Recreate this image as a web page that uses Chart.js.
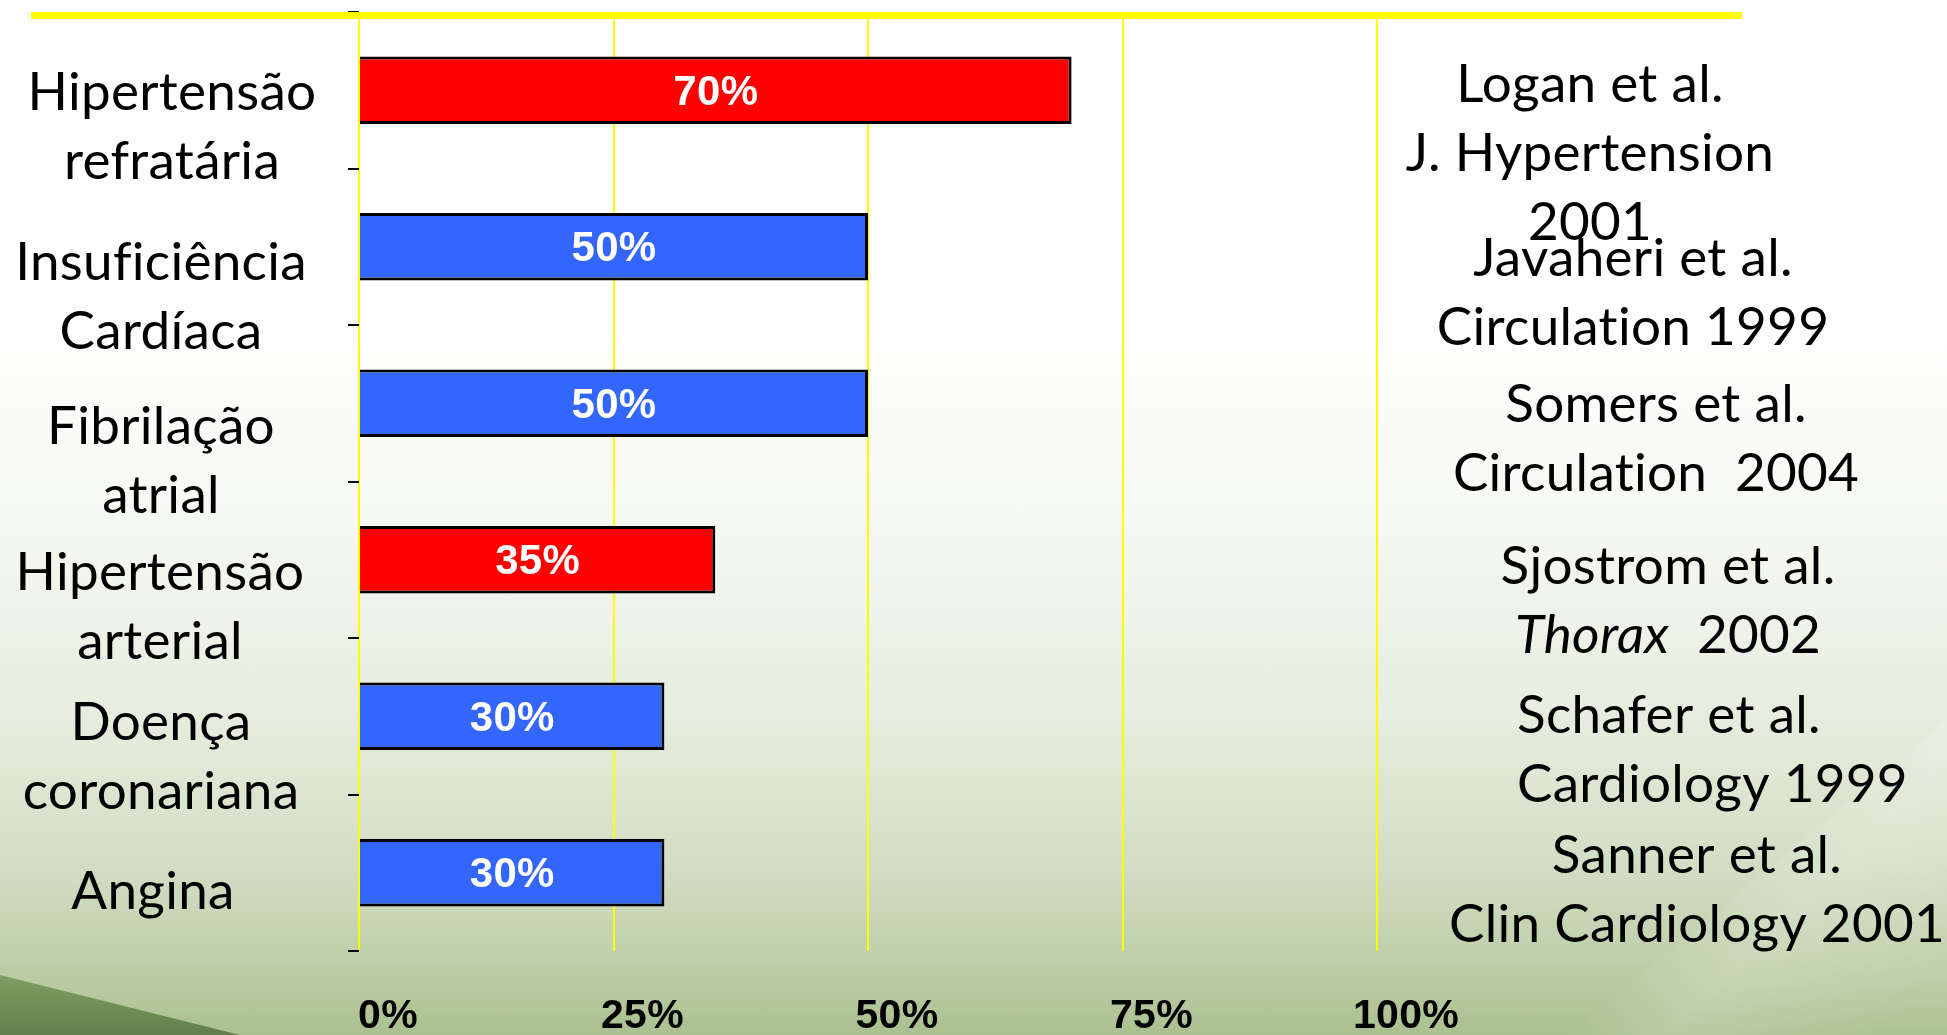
<!DOCTYPE html>
<html lang="pt">
<head>
<meta charset="utf-8">
<title>Prevalência</title>
<script src="https://cdn.jsdelivr.net/npm/chart.js@4.4.1/dist/chart.umd.min.js"></script>
<style>
    html, body {
        margin: 0;
        padding: 0;
        width: 1947px;
        height: 1035px;
        overflow: hidden;
    }
    #slide {
        position: relative;
        width: 1947px;
        height: 1035px;
        background: linear-gradient(to bottom,
            #ffffff 0%, #ffffff 30%, #f6f8f3 50%, #e6ecdd 70%,
            #d2ddc4 84%, #b9cba2 95%, #aac08f 100%);
        overflow: hidden;
    }
    /* green swooshes in the lower corners */
    .wedge {
        position: absolute;
        pointer-events: none;
    }
    #wedge-dark {
        left: 0; top: 975px; width: 300px; height: 60px;
        background: linear-gradient(to bottom, #7f9f62, #637e4b);
        clip-path: polygon(0 0, 80% 100%, 0 100%);
    }
    #wedge-light {
        left: 1560px; top: 720px; width: 387px; height: 315px;
        background: linear-gradient(135deg, rgba(255,255,255,0) 45%, rgba(255,255,255,0.18) 60%, rgba(255,255,255,0.05) 90%);
        clip-path: polygon(100% 0, 100% 100%, 2% 100%);
    }
    canvas {
        position: absolute;
        left: 0;
        top: 0;
    }
</style>
</head>
<body>
<div id="slide">
    <div class="wedge" id="wedge-dark"></div>
    <div class="wedge" id="wedge-light"></div>
    <canvas id="prevChart" width="1947" height="1035"></canvas>
</div>

<script>
// ===== DATA =====
const categories = [
    ['Hipertensão', 'refratária'],
    ['Insuficiência', 'Cardíaca'],
    ['Fibrilação', 'atrial'],
    ['Hipertensão', 'arterial'],
    ['Doença', 'coronariana'],
    ['Angina']
];
const prevalence = [70, 50, 50, 35, 30, 30];
const barColors = ['#ff0000', '#3366ff', '#3366ff', '#ff0000', '#3366ff', '#3366ff'];
const xTicks = [0, 25, 50, 75, 100];

// references, one block per category (runs marked italic where needed)
const citations = [
    [['Logan et al.'], ['J. Hypertension'], ['2001']],
    [['Javaheri et al.'], ['Circulation 1999']],
    [['Somers et al.'], ['Circulation  2004']],
    [['Sjostrom et al.'], [{ t: 'Thorax', italic: true }, '  2002']],
    [['Schafer et al.'], ['Cardiology 1999']],
    [['Sanner et al.'], ['Clin Cardiology 2001']]
];

// ===== LAYOUT =====
const TEXT_FONT = 'Lato, "Open Sans", sans-serif';
const TEXT_SIZE = 53;
const BOLD_FONT = '"Liberation Sans", Arial, sans-serif';
const LINE_GAP = 69;
// category text boxes: centre x, and shift of the block below the band centre
const categoryBoxes = [
    { x: 172, dy: 37 },
    { x: 161, dy: 51 },
    { x: 161, dy: 58 },
    { x: 160, dy: 48 },
    { x: 161, dy: 41 },
    { x: 153, dy: 19 }
];
// reference text boxes: x, first baseline, alignment
const citationBoxes = [
    { x: 1590, y: 102, align: 'center' },
    { x: 1633, y: 276, align: 'center' },
    { x: 1656, y: 422, align: 'center' },
    { x: 1668, y: 584, align: 'center' },
    { x: 1517, y: 733, align: 'left' },
    { x: 1697, y: 873, align: 'center' }
];

// ===== PLUGINS =====
// tiny letter spacing keeps Lato from joining "fi" / "ti"
const noLigatures = {
    id: 'noLigatures',
    beforeDraw(chart) {
        chart.ctx.letterSpacing = '0.3px';
    }
};

const topRule = {
    id: 'topRule',
    afterDraw(chart) {
        const ctx = chart.ctx;
        ctx.save();
        ctx.fillStyle = '#ffff00';
        ctx.fillRect(31, 12, 1711, 7);
        ctx.restore();
    }
};

const barValueLabels = {
    id: 'barValueLabels',
    afterDatasetsDraw(chart) {
        const ctx = chart.ctx;
        const meta = chart.getDatasetMeta(0);
        ctx.save();
        ctx.fillStyle = '#ffffff';
        ctx.font = 'bold 42px ' + BOLD_FONT;
        ctx.textAlign = 'center';
        ctx.textBaseline = 'middle';
        meta.data.forEach((bar, i) => {
            const cx = (bar.x + bar.base) / 2;
            ctx.fillText(prevalence[i] + '%', cx, bar.y + 3);
        });
        ctx.restore();
    }
};

// category names, placed on the y scale's bands
const categoryText = {
    id: 'categoryText',
    afterDraw(chart) {
        const ctx = chart.ctx;
        const yScale = chart.scales.y;
        ctx.save();
        ctx.fillStyle = '#000000';
        ctx.font = TEXT_SIZE + 'px ' + TEXT_FONT;
        ctx.textAlign = 'center';
        ctx.textBaseline = 'middle';
        categories.forEach((lines, i) => {
            const box = categoryBoxes[i];
            const mid = yScale.getPixelForValue(i) + box.dy;
            const top = mid - (lines.length - 1) * LINE_GAP / 2;
            lines.forEach((line, l) => {
                ctx.fillText(line, box.x, top + l * LINE_GAP);
            });
        });
        ctx.restore();
    }
};

function runFont(run) {
    return (run.italic ? 'italic ' : '') + TEXT_SIZE + 'px ' + TEXT_FONT;
}

const referenceText = {
    id: 'referenceText',
    afterDraw(chart) {
        const ctx = chart.ctx;
        ctx.save();
        ctx.fillStyle = '#000000';
        ctx.textBaseline = 'alphabetic';
        ctx.textAlign = 'left';
        citations.forEach((block, b) => {
            const box = citationBoxes[b];
            block.forEach((line, l) => {
                const runs = line.map(r => typeof r === 'string' ? { t: r } : r);
                let width = 0;
                runs.forEach(r => {
                    ctx.font = runFont(r);
                    r.w = ctx.measureText(r.t).width;
                    width += r.w;
                });
                let x = box.align === 'center' ? box.x - width / 2 : box.x;
                const y = box.y + l * LINE_GAP;
                runs.forEach(r => {
                    ctx.font = runFont(r);
                    ctx.fillText(r.t, x, y);
                    x += r.w;
                });
            });
        });
        ctx.restore();
    }
};

// ===== CHART =====
const ctx = document.getElementById('prevChart');
new Chart(ctx, {
    type: 'bar',
    data: {
        labels: categories,
        datasets: [{
            data: prevalence,
            backgroundColor: barColors,
            borderColor: '#000000',
            borderWidth: 3,
            barPercentage: 0.43,
            categoryPercentage: 1
        }]
    },
    options: {
        indexAxis: 'y',
        responsive: false,
        animation: false,
        layout: {
            padding: { top: 12, right: 570, left: 0, bottom: 0 }
        },
        plugins: {
            legend: { display: false },
            tooltip: { enabled: false }
        },
        scales: {
            x: {
                min: 0,
                max: 100,
                afterBuildTicks: (scale) => {
                    scale.ticks = xTicks.map(v => ({ value: v }));
                },
                afterFit: (scale) => {
                    scale.height = 84;
                    scale.paddingLeft = 0;
                    scale.paddingRight = 0;
                },
                ticks: {
                    callback: (v) => v + '%',
                    color: '#000000',
                    font: { family: BOLD_FONT, size: 41, weight: 'bold' },
                    labelOffset: 29,
                    padding: 41,
                    maxRotation: 0
                },
                grid: {
                    color: '#ffff00',
                    lineWidth: 2,
                    drawTicks: false
                },
                border: { display: false }
            },
            y: {
                afterFit: (scale) => {
                    scale.width = 359;
                    scale.paddingTop = 0;
                    scale.paddingBottom = 0;
                },
                // names are drawn by categoryText, the axis keeps its tick marks
                ticks: { display: false },
                grid: {
                    offset: true,
                    drawOnChartArea: false,
                    drawTicks: true,
                    tickLength: 11,
                    color: '#000000',
                    lineWidth: 2
                },
                border: { display: false }
            }
        }
    },
    plugins: [noLigatures, barValueLabels, categoryText, referenceText, topRule]
});
</script>
</body>
</html>
